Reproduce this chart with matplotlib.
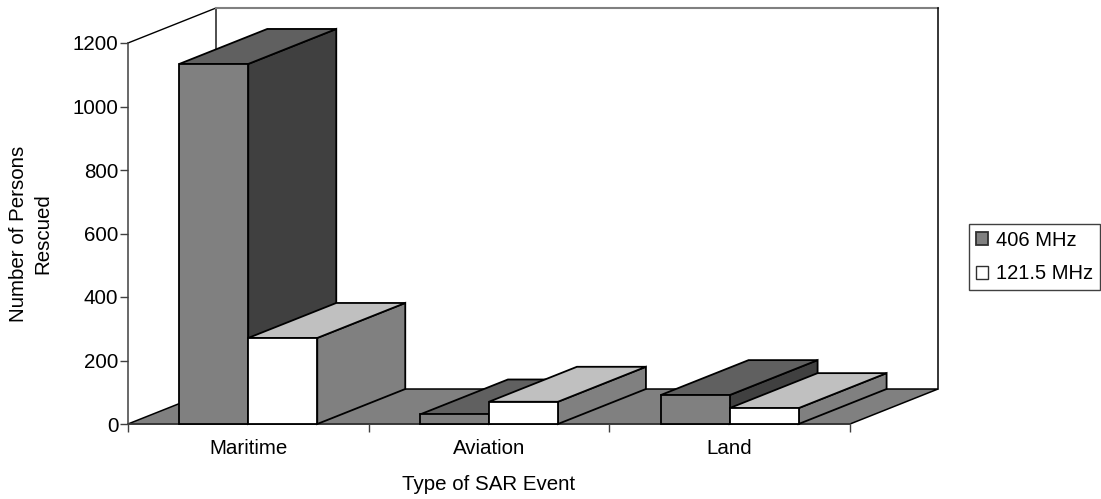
import matplotlib
matplotlib.use('Agg')
import matplotlib.pyplot as plt
from matplotlib.patches import Polygon, Patch

plt.rcParams['font.family'] = ['Liberation Sans', 'DejaVu Sans']

categories = ['Maritime', 'Aviation', 'Land']
series_names = ['406 MHz', '121.5 MHz']
values_406 = [1134, 30, 91]
values_1215 = [271, 70, 50]
y_ticks = [0, 200, 400, 600, 800, 1000, 1200]

W, H = 1101, 499
FS = 14.8

# fake 3d offset of the chart depth, in data units
DEPTH_X = 88 / 240.67
DEPTH_Y = 110.2
BAR_W = 0.2867
BAR_START = 0.213


def add_poly(ax, pts, color, edge='black', lw=1.3, z=2):
    ax.add_patch(Polygon(pts, closed=True, facecolor=color, edgecolor=edge,
                         linewidth=lw, joinstyle='miter', clip_on=False, zorder=z))


def draw_box(ax, x, w, h, front, top, side, z):
    dx, dy = DEPTH_X, DEPTH_Y
    add_poly(ax, [(x + w, 0), (x + w + dx, dy), (x + w + dx, h + dy), (x + w, h)], side, z=z)
    add_poly(ax, [(x, h), (x + dx, h + dy), (x + w + dx, h + dy), (x + w, h)], top, z=z)
    add_poly(ax, [(x, 0), (x + w, 0), (x + w, h), (x, h)], front, z=z)


fig = plt.figure(figsize=(W / 100, H / 100), dpi=100)
ax = fig.add_axes([128 / W, 1 - 424 / H, 722 / W, 381 / H])
ax.set_xlim(0, 3)
ax.set_ylim(0, 1200)

# back wall and floor
ax.plot([0, DEPTH_X], [1200, 1200 + DEPTH_Y], color='black', lw=1, clip_on=False, zorder=1)
ax.plot([DEPTH_X, DEPTH_X], [0 + DEPTH_Y, 1200 + DEPTH_Y], color='#404040', lw=1.3, clip_on=False, zorder=1)
ax.plot([DEPTH_X, 3 + DEPTH_X], [1200 + DEPTH_Y, 1200 + DEPTH_Y], color='#808080', lw=1.5, clip_on=False, zorder=1)
ax.plot([3 + DEPTH_X, 3 + DEPTH_X], [DEPTH_Y, 1200 + DEPTH_Y], color='black', lw=1.1, clip_on=False, zorder=1)
add_poly(ax, [(0, 0), (DEPTH_X, DEPTH_Y), (3 + DEPTH_X, DEPTH_Y), (3, 0)], '#808080', lw=1.1, z=1)

for i in range(len(categories)):
    x = i + BAR_START
    draw_box(ax, x, BAR_W, values_406[i], '#808080', '#606060', '#404040', 3 + i * 2)
    draw_box(ax, x + BAR_W, BAR_W, values_1215[i], '#ffffff', '#c0c0c0', '#808080', 4 + i * 2)

ax.patch.set_visible(False)
for s in ['top', 'right']:
    ax.spines[s].set_visible(False)
ax.spines['left'].set_color('#404040')
ax.spines['bottom'].set_color('#404040')
ax.spines['left'].set_linewidth(1.1)
ax.spines['bottom'].set_linewidth(1.1)
ax.spines['bottom'].set_zorder(1)

ax.set_yticks(y_ticks)
ax.set_xticks([0, 1, 2, 3])
ax.set_xticklabels([])
ax.set_xticks([0.5, 1.5, 2.5], categories, minor=True)
ax.tick_params(axis='x', which='major', length=6, width=1, color='#404040')
ax.tick_params(axis='x', which='minor', length=0, pad=11, labelsize=FS)
ax.tick_params(axis='y', length=6, width=1, color='#404040', labelsize=FS, pad=1)

fig.text(489 / W, 1 - 484 / H, 'Type of SAR Event', ha='center', va='center', fontsize=FS)
fig.text(30.5 / W, 1 - 234 / H, 'Number of Persons\nRescued', ha='center', va='center',
         rotation=90, fontsize=FS, linespacing=1.35)

handles = [Patch(facecolor='#808080', edgecolor='#303030', linewidth=1.3),
           Patch(facecolor='white', edgecolor='#303030', linewidth=1)]
leg = fig.legend(handles, series_names, loc='center left',
                 bbox_to_anchor=(969 / W, 1 - 257 / H), fontsize=14.5, fancybox=False,
                 edgecolor='#404040', framealpha=1, borderpad=0.33, labelspacing=0.74,
                 handlelength=0.6, handleheight=0.6, handletextpad=0.42, borderaxespad=0)
leg.get_frame().set_linewidth(1)

fig.savefig('out.png', dpi=100)
